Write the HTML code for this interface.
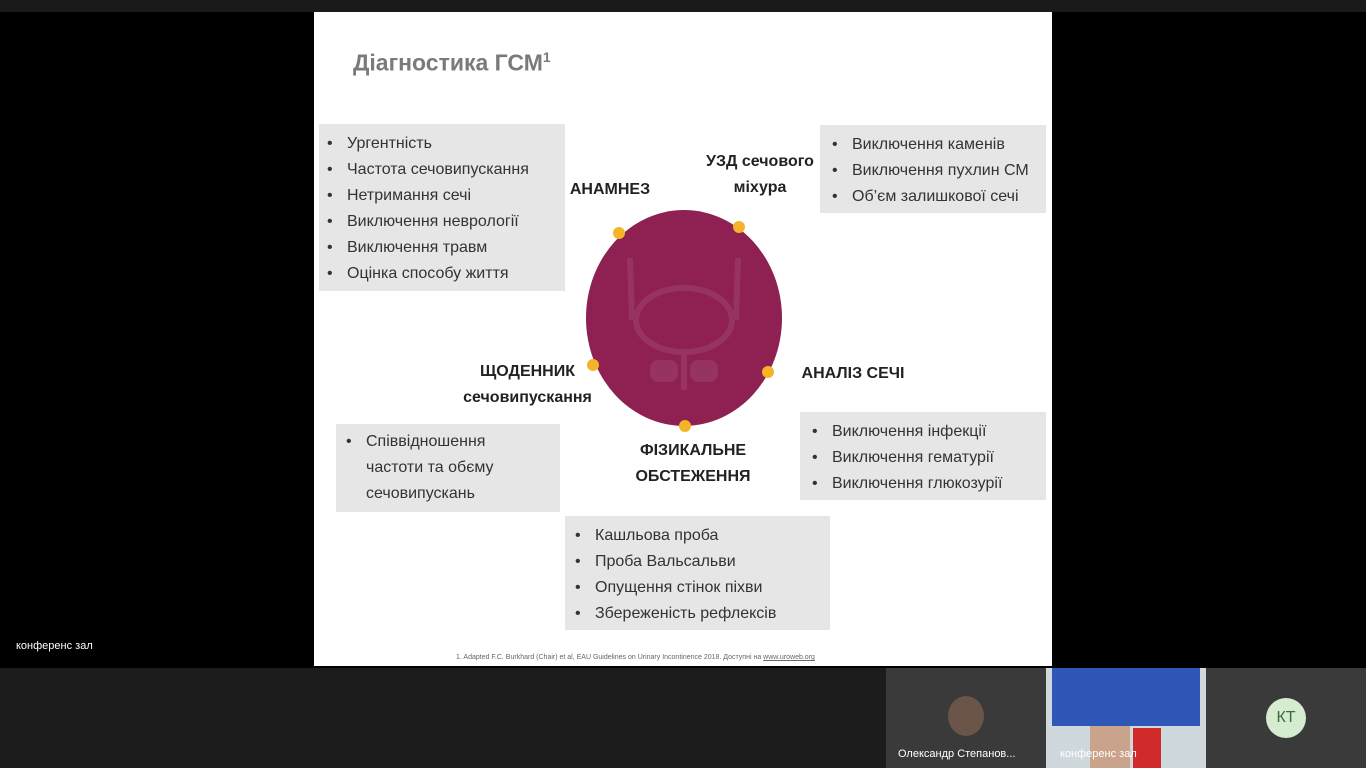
<!DOCTYPE html>
<html><head><meta charset="utf-8"><style>
body{margin:0;width:1366px;height:768px;background:#000;position:relative;overflow:hidden;font-family:"Liberation Sans","DejaVu Sans",sans-serif}
.a{position:absolute}
.slide{left:314px;top:12px;width:738px;height:654px;background:#fff}
.box{position:absolute;background:#e6e6e6;color:#333;font-size:16px;line-height:26px;box-sizing:border-box}
.box div{position:relative;padding-left:28px}
.box div:before{content:"•";position:absolute;left:8px}
.lbl{position:absolute;font-weight:bold;font-size:16px;color:#222;text-align:center;line-height:26px}
.dot{position:absolute;width:12px;height:12px;border-radius:50%;background:#f5b427}
</style></head><body>
<div class="a" style="left:0;top:0;width:1366px;height:12px;background:#1a1a1a"></div>
<div class="a slide"></div>
<div class="a" style="left:353px;top:49px;font-size:23px;font-weight:bold;color:#7a7a7a">Діагностика ГСМ<sup style="font-size:14px">1</sup></div>
<div class="box" style="left:319px;top:124px;width:246px;height:167px;padding-top:7px">
<div>Ургентність</div><div>Частота сечовипускання</div><div>Нетримання сечі</div><div>Виключення неврології</div><div>Виключення травм</div><div>Оцінка способу життя</div></div>
<div class="box" style="left:820px;top:125px;width:226px;height:88px;padding-top:7px;padding-left:4px">
<div>Виключення каменів</div><div>Виключення пухлин СМ</div><div>Об’єм залишкової сечі</div></div>
<div class="box" style="left:800px;top:412px;width:246px;height:88px;padding-top:7px;padding-left:4px">
<div>Виключення інфекції</div><div>Виключення гематурії</div><div>Виключення глюкозурії</div></div>
<div class="box" style="left:336px;top:424px;width:224px;height:88px;padding-top:5px;padding-left:2px">
<div style="width:150px">Співвідношення частоти та обєму сечовипускань</div></div>
<div class="box" style="left:565px;top:516px;width:265px;height:114px;padding-top:7px;padding-left:2px">
<div>Кашльова проба</div><div>Проба Вальсальви</div><div>Опущення стінок піхви</div><div>Збереженість рефлексів</div></div>
<div class="lbl" style="left:560px;top:177px;width:100px">АНАМНЕЗ</div>
<div class="lbl" style="left:700px;top:149px;width:120px">УЗД сечового міхура</div>
<div class="lbl" style="left:795px;top:361px;width:116px">АНАЛІЗ СЕЧІ</div>
<div class="lbl" style="left:455px;top:359px;width:145px">ЩОДЕННИК сечовипускання</div>
<div class="lbl" style="left:625px;top:438px;width:136px">ФІЗИКАЛЬНЕ ОБСТЕЖЕННЯ</div>
<div class="a" style="left:586px;top:210px;width:196px;height:216px;border-radius:50%;background:#8e2151"></div>
<svg class="a" style="left:586px;top:210px" width="196" height="216"><g fill="none" stroke="#a44a72" stroke-width="6" opacity=".45"><path d="M44 48 L46 110"/><path d="M152 48 L150 110"/><ellipse cx="98" cy="110" rx="48" ry="32"/><path d="M98 142 V180"/></g><g fill="#a44a72" opacity=".45"><rect x="64" y="150" width="28" height="22" rx="8"/><rect x="104" y="150" width="28" height="22" rx="8"/></g></svg>
<div class="dot" style="left:613px;top:227px"></div>
<div class="dot" style="left:733px;top:221px"></div>
<div class="dot" style="left:587px;top:359px"></div>
<div class="dot" style="left:762px;top:366px"></div>
<div class="dot" style="left:679px;top:420px"></div>
<div class="a" style="left:456px;top:654px;font-size:7px;color:#666">1. Adapted F.C. Burkhard (Chair) et al, EAU Guidelines on Urinary Incontinence 2018. Доступні на <u>www.uroweb.org</u></div>
<div class="a" style="left:16px;top:640px;font-size:11px;color:#fff">конференс зал</div>
<div class="a" style="left:0;top:668px;width:1366px;height:100px;background:#1c1c1c"></div>
<div class="a" style="left:886px;top:668px;width:160px;height:100px;background:#3a3a3a"></div>
<div class="a" style="left:948px;top:696px;width:36px;height:40px;border-radius:50%;background:#6a5548"></div>
<div class="a" style="left:898px;top:748px;font-size:11px;color:#fff">Олександр Степанов...</div>
<div class="a" style="left:1046px;top:668px;width:160px;height:100px;background:#cfd8dc"></div>
<div class="a" style="left:1052px;top:668px;width:148px;height:58px;background:#2f57b8"></div>
<div class="a" style="left:1090px;top:726px;width:40px;height:42px;background:#c9a38c"></div>
<div class="a" style="left:1133px;top:728px;width:28px;height:40px;background:#d02a2a"></div>
<div class="a" style="left:1060px;top:748px;font-size:11px;color:#fff">конференс зал</div>
<div class="a" style="left:1206px;top:668px;width:160px;height:100px;background:#3a3a3a"></div>
<div class="a" style="left:1266px;top:698px;width:40px;height:40px;border-radius:50%;background:#d6ecd0;color:#3c6a3c;font-size:16px;line-height:40px;text-align:center">КТ</div>
</body></html>
